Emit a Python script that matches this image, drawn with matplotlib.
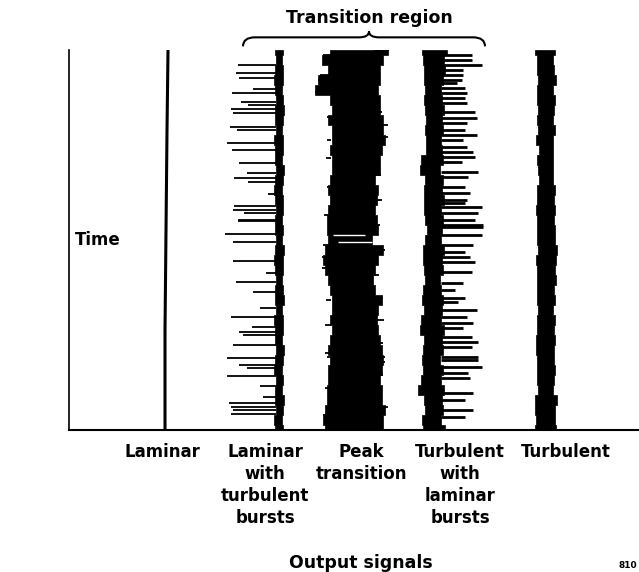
import numpy as np
import matplotlib.pyplot as plt
from matplotlib.path import Path
from matplotlib.patches import PathPatch

plt.rcParams['font.family'] = ['DejaVu Sans']
plt.rcParams['font.weight'] = 'bold'

# time rows of the strip chart, bottom (0) to top (38)
rows = np.arange(39)

# laminar: single thin trace
laminar_t = [0, 10, 20, 30, 38]
laminar_x = [96, 96, 97, 98, 99]

# laminar with turbulent bursts: narrow core + bursts to the left
burst_core_left = [206, 205, 207, 206, 206, 207, 205, 206, 207, 206, 206, 205, 207, 206, 206, 207, 206, 205, 206, 207,
                   206, 206, 207, 206, 205, 206, 207, 206, 206, 205, 207, 206, 206, 207, 206, 205, 206, 207, 206]
burst_core_right = [214, 213, 214, 215, 213, 214, 213, 214, 215, 213, 214, 214, 213, 215, 214, 213, 214, 214, 215, 213,
                    214, 213, 214, 214, 213, 214, 215, 213, 214, 214, 213, 214, 215, 214, 213, 214, 214, 213, 214]
burst_t = [36.5, 35.7, 35.2, 34.1, 33.7, 32.8, 32.5, 32.1, 31.7, 30.3, 30.0, 28.7, 28.0, 26.7, 25.7, 25.2, 24.8, 23.6,
           22.4, 22.0, 21.7, 21.0, 20.9, 19.6, 18.8, 16.9, 15.7, 14.8, 13.8, 12.2, 11.3, 10.3, 9.8, 9.5, 8.5, 7.2, 6.5,
           6.2, 5.4, 4.4, 3.3, 2.7, 2.3, 2.0, 1.6]
burst_end = [169, 167, 170, 184, 163, 172, 179, 162, 164, 161, 168, 158, 163, 170, 178, 165, 179, 199, 165, 164, 175,
             169, 169, 156, 164, 164, 197, 167, 184, 191, 162, 183, 170, 174, 164, 158, 170, 178, 158, 191, 194, 160,
             162, 164, 162]

# peak transition: wide band
peak_left = [256, 254, 256, 258, 258, 259, 259, 261, 259, 261, 263, 261, 263, 263, 261, 259, 256, 254, 256, 259,
             258, 258, 259, 261, 259, 261, 263, 263, 261, 263, 263, 259, 263, 261, 246, 249, 259, 253, 261]
peak_right = [314, 314, 316, 313, 313, 311, 313, 314, 313, 311, 309, 308, 309, 313, 306, 304, 306, 309, 314, 303,
              309, 308, 306, 308, 309, 306, 311, 311, 313, 316, 314, 314, 311, 311, 309, 311, 311, 314, 319]
peak_jag_left_t = [37.5, 35.5, 35.0, 33.8, 31.3, 24.3, 18.5, 17.3, 16.2, 7.7, 7.3, 4.2, 1.5, 29.0, 27.2, 21.5,
                   13.0, 10.5]
peak_jag_left_x = [254, 251, 249, 246, 258, 258, 254, 253, 253, 256, 258, 256, 254, 258, 257, 255, 257, 256]
peak_jag_right_t = [38.0, 31.8, 30.5, 29.3, 28.5, 18.0, 13.2, 8.7, 7.3, 6.8, 5.5, 4.0, 2.3, 25.5, 23.0, 20.5,
                    15.5, 11.0]
peak_jag_right_x = [320, 313, 319, 319, 314, 316, 314, 314, 316, 316, 314, 313, 319, 312, 313, 311, 310, 315]
peak_gap_t = [19.5, 18.8]
peak_gap_from = [264, 269]
peak_gap_to = [296, 303]

# turbulent with laminar bursts: core + bursts to the right
tl_core_left = [354, 353, 356, 355, 349, 352, 354, 353, 354, 355, 351, 352, 355, 353, 354, 356, 355, 354, 354, 356,
                358, 356, 355, 355, 355, 356, 351, 352, 357, 357, 356, 357, 356, 355, 356, 355, 355, 354, 353]
tl_core_right = [376, 372, 374, 373, 375, 372, 374, 371, 374, 373, 375, 372, 373, 374, 372, 371, 374, 373, 375, 372,
                 373, 374, 372, 375, 373, 374, 371, 374, 373, 372, 374, 373, 375, 373, 372, 374, 376, 375, 378]
tl_t = [37.5, 37.0, 36.5, 36.0, 35.5, 35.0, 34.7, 34.2, 33.7, 33.2, 32.7, 31.8, 31.2, 30.7, 30.0, 29.5, 29.0, 28.3,
        27.8, 27.3, 26.8, 25.8, 25.3, 24.3, 23.7, 23.0, 22.7, 22.3, 21.7, 21.0, 20.5, 20.3, 19.5, 18.5, 17.8, 17.3,
        16.8, 15.8, 14.7, 14.0, 13.2, 12.8, 12.0, 11.3, 10.7, 10.2, 9.3, 8.8, 8.3, 7.3, 7.0, 6.3, 5.7, 5.2, 3.7,
        3.0, 2.0, 1.3]
tl_end = [403, 403, 413, 394, 394, 393, 388, 396, 398, 396, 398, 406, 408, 398, 396, 408, 394, 398, 404, 406, 393,
          409, 399, 396, 401, 398, 396, 413, 409, 406, 414, 414, 413, 404, 396, 401, 406, 403, 394, 386, 396, 389,
          408, 398, 404, 394, 403, 409, 403, 409, 409, 413, 399, 401, 404, 396, 404, 396]

# turbulent: medium band
turb_left = [466, 467, 466, 466, 469, 468, 468, 468, 467, 467, 468, 468, 469, 468, 468, 468, 468, 467, 469, 468,
             468, 468, 467, 468, 468, 470, 469, 468, 470, 467, 469, 468, 469, 468, 468, 469, 468, 468, 466]
turb_right = [487, 486, 486, 488, 484, 485, 486, 485, 485, 486, 485, 486, 484, 486, 485, 487, 486, 487, 488, 486,
              486, 485, 486, 485, 486, 484, 484, 484, 484, 484, 486, 484, 485, 486, 484, 487, 485, 484, 486]

labels = ['Laminar', 'Laminar\nwith\nturbulent\nbursts', 'Peak\ntransition',
          'Turbulent\nwith\nlaminar\nbursts', 'Turbulent']
label_x = [93, 196, 292, 391, 497]

fig = plt.figure(figsize=(6.39, 5.72), dpi=100)
ax = fig.add_axes([0.108, 0.248, 0.892, 0.664])
ax.set_xlim(0, 570)
ax.set_ylim(0, 38)
for s in ['top', 'right']:
    ax.spines[s].set_visible(False)
ax.spines['left'].set_linewidth(1.2)
ax.spines['bottom'].set_linewidth(1.5)
ax.set_xticks([])
ax.set_yticks([])

k = 'black'
ax.plot(laminar_x, laminar_t, color=k, lw=2.2)

ax.fill_betweenx(rows, burst_core_left, burst_core_right, step='mid', color=k, lw=0.5)
ax.hlines(burst_t, burst_end, 207, color=k, lw=1.3)

ax.fill_betweenx(rows, peak_left, peak_right, step='mid', color=k, lw=0.5)
ax.hlines(peak_jag_left_t, peak_jag_left_x, 262, color=k, lw=1.3)
ax.hlines(peak_jag_right_t, 305, peak_jag_right_x, color=k, lw=1.3)
ax.hlines(peak_gap_t, peak_gap_from, peak_gap_to, color='white', lw=1.0)

ax.fill_betweenx(rows, tl_core_left, tl_core_right, step='mid', color=k, lw=0.5)
ax.hlines(tl_t, 372, tl_end, color=k, lw=2.0)

ax.fill_betweenx(rows, turb_left, turb_right, step='mid', color=k, lw=0.5)

# brace over the transition region
bx0, bx1, bm = 174, 416, 300
y_end, y_mid, y_tip = 38.4, 39.3, 39.9
verts = [(bx0, y_end), (bx0, y_mid), (bx0 + 12, y_mid),
         (bm - 10, y_mid), (bm, y_mid), (bm, y_tip),
         (bm, y_mid), (bm + 10, y_mid),
         (bx1 - 12, y_mid), (bx1, y_mid), (bx1, y_end)]
codes = [Path.MOVETO, Path.CURVE3, Path.CURVE3,
         Path.LINETO, Path.CURVE3, Path.CURVE3,
         Path.CURVE3, Path.CURVE3,
         Path.LINETO, Path.CURVE3, Path.CURVE3]
ax.add_patch(PathPatch(Path(verts, codes), fill=False, lw=1.5, color=k, clip_on=False))
ax.text(bm, 41.2, 'Transition region', ha='center', va='center', fontsize=12.5, fontweight='bold')

for x, lab in zip(label_x, labels):
    ax.text(x, -0.033, lab, transform=ax.get_xaxis_transform(), ha='center', va='top',
            fontsize=12, fontweight='bold', linespacing=1.3)

fig.text(98 / 639, 1 - 240 / 572, 'Time', ha='center', va='center', fontsize=12, fontweight='bold')
fig.text(361 / 639, 1 - 563 / 572, 'Output signals', ha='center', va='center', fontsize=12.5, fontweight='bold')
fig.text(637 / 639, 1 - 566 / 572, '810', ha='right', va='center', fontsize=6.5, fontweight='bold')

fig.savefig('out.png', dpi=100)
